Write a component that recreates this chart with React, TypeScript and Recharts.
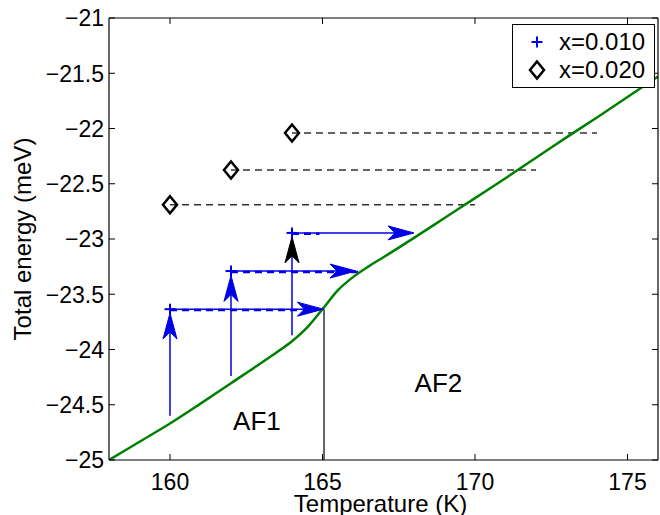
import {
  ComposedChart,
  Line,
  Scatter,
  XAxis,
  YAxis,
  ReferenceLine,
  ReferenceDot,
  Legend,
} from "recharts";

const FONT = '"Liberation Sans", Arial, Helvetica, sans-serif';
const BLUE = "#0000e6";
const GREEN = "#008000";

// axes
const xTicks = [160, 165, 170, 175];
const yTicks = [-25, -24.5, -24, -23.5, -23, -22.5, -22, -21.5, -21];

// total energy curve (green)
const curveTemps = [158, 159, 160, 161, 162, 163, 163.5, 164, 164.5, 165, 165.5, 166, 166.5, 167, 168, 169, 170, 171, 172, 173, 174, 175, 176];
const curveEnergy = [-25.0, -24.835, -24.67, -24.49, -24.305, -24.12, -24.025, -23.925, -23.8, -23.635, -23.465, -23.345, -23.25, -23.165, -22.99, -22.81, -22.63, -22.45, -22.265, -22.08, -21.9, -21.715, -21.53];

// x = 0.010 (blue plus)
const x010Temps = [160, 162, 164];
const x010Energy = [-23.635, -23.29, -22.945];
const x010ArrowEnd = [165.03, 166.1, 168.0];
const x010DashEnd = [164.3, 166.2, 164.9];
const x010RiseFrom = [-24.6, -24.24, -23.87];
const x010RiseTo = [-23.67, -23.33, -22.98];
const x010RiseHead = [BLUE, BLUE, "#000"];

// x = 0.020 (black diamonds)
const x020Temps = [160, 162, 164];
const x020Energy = [-22.69, -22.375, -22.04];
const x020DashEnd = [170, 172, 174];

// AF1 / AF2 boundary
const transitionTemp = 165.05;
const transitionEnergy = -23.635;

const curve = curveTemps.map((t, i) => ({ t, e: curveEnergy[i] }));
const x010 = x010Temps.map((t, i) => ({ t, e: x010Energy[i] }));
const x020 = x020Temps.map((t, i) => ({ t, e: x020Energy[i] }));

const fmt = (v: number) => String(v).replace("-", "\u2212");

const BottomTick = (p: any) => (
  <g>
    <line x1={p.x} y1={p.y} x2={p.x} y2={p.y - 6} stroke="#000" />
    <text x={p.x} y={p.y + 30} textAnchor="middle" fontSize={23} fontFamily={FONT} fill="#000">
      {p.payload.value}
    </text>
  </g>
);
const TopTick = (p: any) => <line x1={p.x} y1={p.y} x2={p.x} y2={p.y + 6} stroke="#000" />;
const LeftTick = (p: any) => (
  <g>
    <line x1={p.x} y1={p.y} x2={p.x + 6} y2={p.y} stroke="#000" />
    <text x={p.x - 5} y={p.y} dy="0.36em" textAnchor="end" fontSize={23} fontFamily={FONT} fill="#000">
      {fmt(p.payload.value)}
    </text>
  </g>
);
const RightTick = (p: any) => <line x1={p.x} y1={p.y} x2={p.x - 6} y2={p.y} stroke="#000" />;

const arrowShape = (color: string, headColor: string) => (p: any) => {
  const { x1, y1, x2, y2 } = p;
  const len = Math.hypot(x2 - x1, y2 - y1) || 1;
  const ux = (x2 - x1) / len;
  const uy = (y2 - y1) / len;
  const L = 26, W = 7, N = 7;
  const bx = x2 - ux * L, by = y2 - uy * L;
  const nx = x2 - ux * (L - N), ny = y2 - uy * (L - N);
  const pts = [
    [x2, y2],
    [bx - uy * W, by + ux * W],
    [nx, ny],
    [bx + uy * W, by - ux * W],
  ].map((q) => q.join(",")).join(" ");
  return (
    <g>
      <line x1={x1} y1={y1} x2={nx} y2={ny} stroke={color} strokeWidth={1.5} />
      <polygon points={pts} fill={headColor} stroke={headColor} strokeWidth={1} />
    </g>
  );
};

const Plus = (p: any) => (
  <g stroke={BLUE} strokeWidth={2}>
    <line x1={p.cx - 5.5} y1={p.cy} x2={p.cx + 5.5} y2={p.cy} />
    <line x1={p.cx} y1={p.cy - 5.5} x2={p.cx} y2={p.cy + 5.5} />
  </g>
);
const Diamond = (p: any) => (
  <polygon
    points={`${p.cx},${p.cy - 8.5} ${p.cx + 7},${p.cy} ${p.cx},${p.cy + 8.5} ${p.cx - 7},${p.cy}`}
    fill="none"
    stroke="#000"
    strokeWidth={2.5}
  />
);

const legendItems = [
  { name: "x=0.010", marker: "plus" },
  { name: "x=0.020", marker: "diamond" },
];

const LegendBox = () => (
  <div
    style={{
      width: 143,
      height: 64,
      boxSizing: "border-box",
      border: "1.5px solid #000",
      background: "#fff",
      paddingTop: 3,
      fontFamily: FONT,
      fontSize: 24,
    }}
  >
    {legendItems.map((it) => (
      <div key={it.name} style={{ display: "flex", alignItems: "center", height: 28 }}>
        <svg width={46} height={28}>
          {it.marker === "plus" ? <Plus cx={24} cy={14} /> : <Diamond cx={24} cy={14} />}
        </svg>
        <span>{it.name}</span>
      </div>
    ))}
  </div>
);

const regionText = (txt: string) => (p: any) => (
  <text x={p.cx} y={p.cy} dy="0.36em" textAnchor="middle" fontSize={26} fontFamily={FONT} fill="#000">
    {txt}
  </text>
);

export default function App() {
  return (
    <div style={{ position: "absolute", left: 0, top: 0, background: "#fff" }}>
      <ComposedChart width={660} height={515} margin={{ top: 0, right: 0, bottom: 0, left: 0 }}>
        <XAxis
          xAxisId="b"
          type="number"
          dataKey="t"
          domain={[158, 176]}
          ticks={xTicks}
          allowDataOverflow
          orientation="bottom"
          height={55}
          tickSize={0}
          tickMargin={0}
          tickLine={false}
          tick={<BottomTick />}
          axisLine={{ stroke: "#000", strokeWidth: 1.2 }}
          label={{
            content: (lp: any) => {
              const vb = lp.viewBox || { x: 109, y: 460, width: 549, height: 55 };
              return (
                <text x={vb.x + vb.width / 2 - 3} y={vb.y + 52} textAnchor="middle" fontSize={24} fontFamily={FONT} fill="#000">
                  Temperature (K)
                </text>
              );
            },
          }}
        />
        <XAxis
          xAxisId="top"
          type="number"
          dataKey="t"
          domain={[158, 176]}
          ticks={xTicks}
          allowDataOverflow
          orientation="top"
          height={18}
          tickSize={0}
          tickMargin={0}
          tickLine={false}
          tick={<TopTick />}
          axisLine={{ stroke: "#000", strokeWidth: 1.2 }}
        />
        <YAxis
          yAxisId="l"
          type="number"
          dataKey="e"
          domain={[-25, -21]}
          ticks={yTicks}
          allowDataOverflow
          width={109}
          tickSize={0}
          tickMargin={0}
          tickLine={false}
          tick={<LeftTick />}
          axisLine={{ stroke: "#000", strokeWidth: 1.2 }}
          label={{
            content: (lp: any) => {
              const vb = lp.viewBox || { x: 0, y: 18, width: 109, height: 442 };
              const cy = vb.y + vb.height / 2;
              return (
                <text x={22} y={cy} transform={`rotate(-90 22 ${cy})`} dy="0.36em" textAnchor="middle" fontSize={24} fontFamily={FONT} fill="#000">
                  Total energy (meV)
                </text>
              );
            },
          }}
        />
        <YAxis
          yAxisId="r"
          orientation="right"
          type="number"
          domain={[-25, -21]}
          ticks={yTicks}
          allowDataOverflow
          width={2}
          tickSize={0}
          tickMargin={0}
          tickLine={false}
          tick={<RightTick />}
          axisLine={{ stroke: "#000", strokeWidth: 1.2 }}
        />

        {x020Temps.map((t, i) => (
          <ReferenceLine
            key={`d20-${i}`}
            xAxisId="b"
            yAxisId="l"
            segment={[{ x: t, y: x020Energy[i] }, { x: x020DashEnd[i], y: x020Energy[i] }]}
            stroke="#333"
            strokeWidth={1.5}
            strokeDasharray="7 5"
            ifOverflow="visible"
          />
        ))}

        {x010Temps.map((t, i) => (
          <ReferenceLine
            key={`d10-${i}`}
            xAxisId="b"
            yAxisId="l"
            segment={[{ x: t, y: x010Energy[i] - 0.008 }, { x: x010DashEnd[i], y: x010Energy[i] - 0.008 }]}
            stroke={BLUE}
            strokeWidth={2.5}
            strokeDasharray="7 5"
            ifOverflow="visible"
          />
        ))}

        <ReferenceLine
          xAxisId="b"
          yAxisId="l"
          segment={[{ x: transitionTemp, y: transitionEnergy }, { x: transitionTemp, y: -25 }]}
          stroke="#000"
          strokeWidth={1.2}
          ifOverflow="visible"
        />

        <Line
          xAxisId="b"
          yAxisId="l"
          data={curve}
          dataKey="e"
          type="monotone"
          stroke={GREEN}
          strokeWidth={2.5}
          dot={false}
          activeDot={false}
          legendType="none"
          isAnimationActive={false}
        />

        {x010Temps.map((t, i) => (
          <ReferenceLine
            key={`h10-${i}`}
            xAxisId="b"
            yAxisId="l"
            segment={[{ x: t, y: x010Energy[i] }, { x: x010ArrowEnd[i], y: x010Energy[i] }]}
            shape={arrowShape(BLUE, BLUE)}
            ifOverflow="visible"
          />
        ))}
        {x010Temps.map((t, i) => (
          <ReferenceLine
            key={`v10-${i}`}
            xAxisId="b"
            yAxisId="l"
            segment={[{ x: t, y: x010RiseFrom[i] }, { x: t, y: x010RiseTo[i] }]}
            shape={arrowShape(BLUE, x010RiseHead[i])}
            ifOverflow="visible"
          />
        ))}

        <Scatter
          xAxisId="b"
          yAxisId="l"
          name="x=0.010"
          data={x010}
          dataKey="e"
          shape={<Plus />}
          isAnimationActive={false}
        />
        <Scatter
          xAxisId="b"
          yAxisId="l"
          name="x=0.020"
          data={x020}
          dataKey="e"
          shape={<Diamond />}
          isAnimationActive={false}
        />

        <ReferenceDot xAxisId="b" yAxisId="l" x={162.85} y={-24.64} r={0} shape={regionText("AF1")} ifOverflow="visible" />
        <ReferenceDot xAxisId="b" yAxisId="l" x={168.8} y={-24.3} r={0} shape={regionText("AF2")} ifOverflow="visible" />

        <Legend
          layout="vertical"
          align="center"
          verticalAlign="middle"
          content={<LegendBox />}
          wrapperStyle={{ position: "absolute", left: 512, top: 24, width: 143, height: 64 }}
        />
      </ComposedChart>
    </div>
  );
}
